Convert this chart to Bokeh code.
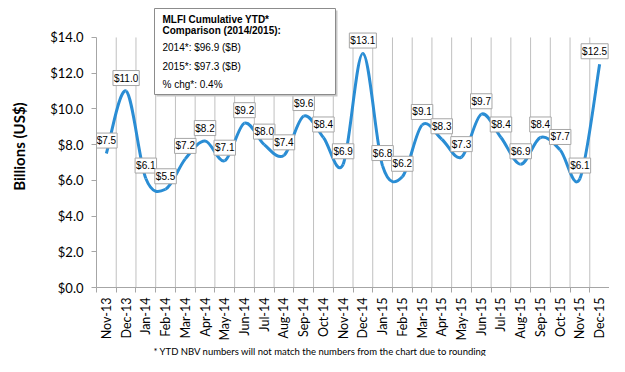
import numpy as np
from bokeh.plotting import figure
from bokeh.models import (Range1d, FixedTicker, NumeralTickFormatter, Label,
                          ColumnDataSource, BoxAnnotation, Title)
from bokeh.core.properties import value
from bokeh.embed import file_html
from bokeh.resources import INLINE

# ---- data ----
months = ["Nov-13", "Dec-13",
          "Jan-14", "Feb-14", "Mar-14", "Apr-14", "May-14", "Jun-14",
          "Jul-14", "Aug-14", "Sep-14", "Oct-14", "Nov-14", "Dec-14",
          "Jan-15", "Feb-15", "Mar-15", "Apr-15", "May-15", "Jun-15",
          "Jul-15", "Aug-15", "Sep-15", "Oct-15", "Nov-15", "Dec-15"]
nbv = [7.5, 11.0, 6.1, 5.5, 7.2, 8.2, 7.1, 9.2, 8.0, 7.4, 9.6, 8.4, 6.9, 13.1,
       6.8, 6.2, 9.1, 8.3, 7.3, 9.7, 8.4, 6.9, 8.4, 7.7, 6.1, 12.5]
y_ticks = [0, 2, 4, 6, 8, 10, 12, 14]
legend_title = ["MLFI Cumulative YTD*", "Comparison (2014/2015):"]
legend_lines = ["2014*: $96.9 ($B)", "2015*: $97.3  ($B)", "% chg*: 0.4%"]
y_label = "Billions (US$)"
footnote = "*  YTD NBV numbers will not match the numbers from the chart due to rounding"

n = len(months)
xs = np.arange(n) + 0.5
ys = np.array(nbv, dtype=float)
y_top = y_ticks[-1]

p = figure(width=609, height=356, x_range=Range1d(0, n), y_range=Range1d(0, 15.79),
           output_backend="svg", toolbar_location=None,
           min_border_left=96, min_border_right=0, min_border_top=5, min_border_bottom=68)
p.outline_line_color = None
p.background_fill_color = "white"
p.border_fill_color = "white"

AX = "#a6a6a6"
GRID = "#c0c0c0"
# x axis
xa = p.xaxis[0]
xa.ticker = FixedTicker(ticks=list(xs), minor_ticks=list(range(0, n + 1)))
xa.major_label_overrides = {float(x): m for x, m in zip(xs, months)}
xa.major_label_orientation = np.pi / 2
xa.major_tick_out = 0
xa.major_tick_in = 0
xa.minor_tick_out = 5
xa.minor_tick_in = 0
xa.minor_tick_line_color = AX
xa.axis_line_color = AX
xa.major_label_text_font = "Lato"
xa.major_label_text_font_size = "12.5px"
xa.major_label_text_color = "black"
xa.major_label_standoff = 5

# y axis
ya = p.yaxis[0]
ya.ticker = FixedTicker(ticks=y_ticks)
ya.bounds = (0, y_top)
ya.formatter = NumeralTickFormatter(format="$0.0")
ya.major_tick_out = 5
ya.major_tick_in = 0
ya.minor_tick_out = 0
ya.minor_tick_in = 0
ya.major_tick_line_color = AX
ya.axis_line_color = AX
ya.major_label_text_font = "Lato"
ya.major_label_text_font_size = "13px"
ya.major_label_text_color = "black"
ya.major_label_standoff = 8
ya.axis_label = y_label
ya.axis_label_text_font = "Lato"
ya.axis_label_text_font_style = "bold"
ya.axis_label_text_font_size = "15px"
ya.axis_label_text_color = "black"
ya.axis_label_standoff = 19

p.xgrid.grid_line_color = None
p.ygrid.grid_line_color = None

# vertical grid lines at category boundaries, from 0 up to the top tick
bounds_x = np.arange(1, n)
p.segment(x0=bounds_x, y0=0, x1=bounds_x, y1=y_top, line_color=GRID, line_width=1)

# smoothed line (Bezier segments through the data points)
px = np.concatenate([[xs[0]], xs, [xs[-1]]])
py = np.concatenate([[ys[0]], ys, [ys[-1]]])
x0 = px[1:-2]; y0 = py[1:-2]
x1 = px[2:-1]; y1 = py[2:-1]
cx0 = x0 + (px[2:-1] - px[0:-3]) / 6.0
cy0 = y0 + (py[2:-1] - py[0:-3]) / 6.0
cx1 = x1 - (px[3:] - px[1:-2]) / 6.0
cy1 = y1 - (py[3:] - py[1:-2]) / 6.0
p.bezier(x0=x0, y0=y0, x1=x1, y1=y1, cx0=cx0, cy0=cy0, cx1=cx1, cy1=cy1,
         line_color="#2a8dd4", line_width=3)

# data labels (the last one nudged left so its text stays inside the chart)
label_dx = [0] * n
label_dx[-1] = -5
src = ColumnDataSource(dict(x=xs, y=ys, dx=label_dx, text=[f"${v:.1f}" for v in nbv]))
p.text(x="x", y="y", text="text", source=src, y_offset=-13, x_offset="dx",
       text_align="center", text_baseline="middle",
       text_font=value("Liberation Sans"), text_font_size="10px",
       text_color="black", background_fill_color="white",
       border_line_color="#a6a6a6", border_line_width=1, padding=[1, 2])

# info box (screen units, relative to the plot frame)
p.add_layout(BoxAnnotation(left=60, right=241, top=277, bottom=191,
                           left_units="screen", right_units="screen",
                           top_units="screen", bottom_units="screen",
                           fill_color="#c8c8c8", fill_alpha=1, line_color=None))
p.add_layout(BoxAnnotation(left=58, right=239, top=279, bottom=193,
                           left_units="screen", right_units="screen",
                           top_units="screen", bottom_units="screen",
                           fill_color="white", fill_alpha=1,
                           line_color="#8c8c8c", line_width=1, line_alpha=1))
for txt, yy in zip(legend_title, [268, 257]):
    p.add_layout(Label(x=66, y=yy, x_units="screen", y_units="screen", text=txt,
                       text_font="Liberation Sans", text_font_size="10px",
                       text_font_style="bold", text_color="black",
                       text_baseline="middle"))
for txt, yy in zip(legend_lines, [240, 221, 203]):
    p.add_layout(Label(x=66, y=yy, x_units="screen", y_units="screen", text=txt,
                       text_font="Liberation Sans", text_font_size="10px",
                       text_color="black", text_baseline="middle"))

# footnote below the x axis
p.add_layout(Title(text=footnote, align="left", offset=57, standoff=0,
                   text_font="Lato", text_font_size="9.5px", text_font_style="normal",
                   text_color="black"), "below")

open("out.html", "w").write(file_html(p, INLINE))
